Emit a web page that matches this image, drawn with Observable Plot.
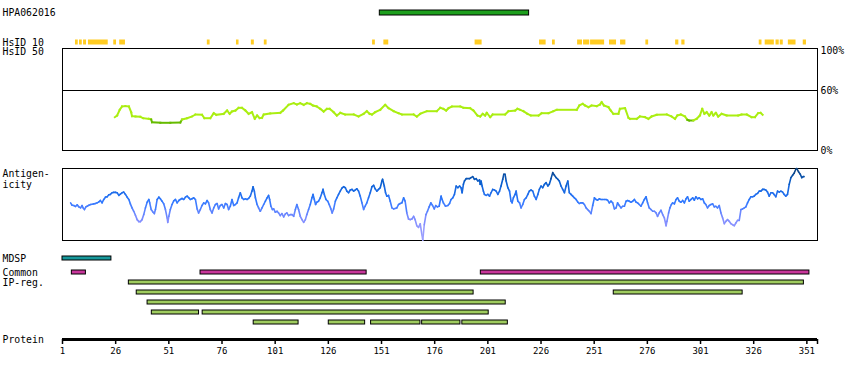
<!DOCTYPE html>
<html><head><meta charset="utf-8">
<script src="https://cdn.jsdelivr.net/npm/d3@7"></script>
<script src="https://cdn.jsdelivr.net/npm/@observablehq/plot@0.6"></script>
<style>
body{margin:0;background:#fff;}
#chart{width:850px;height:380px;}
#chart svg{display:block;overflow:visible;}
</style></head><body><div id="chart"></div>
<script>
// ---------------- data ----------------
const proteinLength = 356;
const antibodyName = "HPA062016";
const antigenRegion = [{start: 150.2, end: 220.4}];

// HsID 10 identity marks (residue start, end)
const hsid10 = [[7.1,8.4],[9.0,10.3],[10.9,12.3],[13.2,22.5],[25.1,26.4],[27.9,30.6],[69.1,70.4],[82.8,84.0],[89.8,91.2],[95.9,97.2],[146.8,148.1],[152.1,154.4],[195.0,198.3],[225.3,228.4],[231.4,232.7],[243.2,245.5],[246.0,248.9],[249.3,255.9],[258.2,261.5],[263.4,265.9],[275.3,276.6],[289.3,290.8],[292.2,293.7],[328.6,329.9],[331.4,335.7],[336.5,338.0],[338.5,339.9],[342.3,345.9],[349.3,350.8]];

// HsID 50 identity profile (residue, percent)
const hsid50 = [[25.6,33.3],[26.7,35.0],[27.9,40.7],[29.0,44.0],[30.6,44.3],[32.2,44.0],[33.3,38.3],[33.7,34.3],[35.3,34.0],[37.6,33.7],[38.9,32.3],[41.6,31.7],[42.7,31.0],[43.1,28.3],[47.0,27.7],[51.7,27.7],[56.4,28.0],[57.2,31.0],[59.6,32.3],[61.9,34.0],[63.5,36.0],[66.6,35.7],[67.7,32.3],[70.5,32.3],[72.1,37.3],[73.3,35.7],[76.8,36.7],[78.4,40.0],[79.6,36.7],[80.7,39.0],[82.3,40.0],[83.8,42.7],[85.4,42.7],[87.0,40.0],[88.5,36.7],[90.1,38.3],[91.4,31.7],[92.5,35.0],[93.7,32.3],[94.8,32.7],[95.6,36.0],[98.7,37.0],[103.4,37.7],[104.7,40.0],[107.3,45.7],[109.7,47.3],[111.2,46.0],[112.8,47.3],[114.4,45.7],[115.9,47.3],[117.5,46.7],[118.8,45.0],[120.6,44.0],[122.2,41.7],[123.8,39.0],[125.3,41.7],[126.6,41.7],[128.5,38.3],[130.0,35.0],[131.6,37.7],[133.9,36.0],[137.9,36.0],[140.2,34.0],[142.6,36.7],[144.1,39.3],[145.4,36.7],[146.5,36.0],[148.0,38.3],[150.4,40.7],[152.7,45.7],[154.3,42.3],[156.7,39.3],[159.0,37.3],[160.6,36.0],[166.1,36.0],[167.6,34.0],[169.2,36.7],[172.3,39.3],[177.0,39.3],[178.6,42.7],[180.1,41.7],[181.4,40.0],[182.5,42.3],[184.1,44.0],[188.0,44.0],[189.5,42.7],[192.7,42.3],[194.2,40.0],[196.1,35.0],[197.4,34.0],[198.6,36.7],[199.7,35.0],[200.5,37.7],[202.1,33.3],[203.3,36.0],[209.1,36.0],[210.7,39.3],[213.8,40.0],[214.9,41.7],[216.2,40.7],[217.7,39.3],[219.6,36.7],[221.2,35.0],[224.8,35.0],[226.3,37.3],[229.5,37.3],[231.8,39.3],[233.4,40.7],[242.8,40.7],[244.0,45.0],[245.6,46.7],[246.7,45.0],[248.3,43.3],[249.8,45.0],[252.2,44.3],[253.7,46.0],[254.5,48.3],[255.6,45.0],[257.7,43.3],[258.8,40.0],[260.0,36.7],[262.4,36.7],[263.1,41.7],[265.5,42.3],[267.1,32.7],[267.8,31.7],[271.0,31.7],[272.5,34.0],[274.9,33.3],[276.5,31.7],[278.0,34.0],[280.4,35.7],[285.1,36.0],[287.4,34.0],[289.0,31.7],[290.1,35.0],[291.7,36.0],[293.7,34.0],[294.8,30.7],[295.7,30.0],[297.6,30.0],[299.2,31.7],[300.7,35.0],[301.8,41.7],[302.8,36.7],[303.9,38.3],[305.1,35.0],[306.2,38.3],[307.0,35.0],[308.2,37.7],[309.3,34.0],[310.9,36.7],[313.3,35.0],[318.7,35.0],[320.3,36.0],[322.7,36.0],[325.0,33.3],[326.6,33.3],[328.1,37.3],[329.2,37.7],[330.2,35.7]];
const percentTicks = [100, 60, 0];

// Antigenicity profile (residue, score 0-100)
const antigenicity = [[4.8,52.3],[5.5,49.0],[6.3,48.6],[7.1,47.2],[7.9,49.5],[8.7,46.7],[9.5,45.3],[10.2,48.6],[10.7,45.3],[11.3,43.0],[12.0,46.7],[12.6,47.6],[13.4,49.0],[14.2,50.0],[15.7,50.9],[16.5,51.4],[17.3,52.3],[18.1,53.7],[18.8,55.6],[19.6,52.3],[20.4,57.0],[21.2,60.2],[22.0,60.7],[22.8,63.5],[23.5,64.0],[24.3,66.3],[25.1,66.8],[25.9,66.8],[26.7,66.3],[27.5,62.6],[28.2,64.4],[29.0,66.3],[29.8,67.2],[30.6,64.0],[31.4,60.2],[32.2,57.0],[32.9,50.9],[33.7,45.3],[34.5,40.6],[35.3,35.0],[36.1,29.0],[36.9,26.2],[37.6,26.2],[38.4,29.0],[39.2,36.0],[40.0,45.3],[40.8,53.2],[41.6,57.0],[42.0,52.3],[42.7,43.0],[43.6,39.2],[44.2,37.4],[44.7,43.0],[45.5,57.0],[46.3,60.2],[47.0,57.9],[47.8,54.6],[48.6,50.9],[49.4,43.0],[50.2,31.3],[50.5,25.2],[51.0,33.6],[51.7,43.0],[52.5,50.0],[53.3,55.1],[54.1,57.0],[54.9,52.3],[55.7,55.6],[56.4,57.0],[57.2,58.4],[58.0,57.0],[58.8,60.2],[59.6,61.6],[60.4,59.3],[61.1,57.0],[61.9,57.9],[62.7,59.3],[63.5,57.0],[64.3,43.9],[65.0,38.3],[65.8,43.0],[66.6,48.6],[67.4,52.3],[68.2,50.9],[69.0,55.6],[69.7,52.3],[70.5,43.0],[71.3,38.3],[72.1,45.3],[72.9,50.0],[73.7,51.4],[74.4,43.9],[75.2,48.6],[76.0,50.0],[76.8,45.3],[77.6,51.4],[78.4,50.0],[79.1,43.0],[79.9,47.6],[80.7,57.0],[81.5,48.6],[82.3,50.0],[83.1,52.3],[83.8,59.3],[84.6,66.3],[85.4,59.3],[86.2,57.0],[87.0,57.9],[87.8,57.0],[88.5,58.4],[89.3,61.6],[90.1,68.6],[90.6,74.7],[91.2,68.6],[91.7,59.3],[92.5,50.0],[93.2,45.3],[94.0,40.6],[94.8,45.3],[95.6,50.0],[96.4,54.6],[97.2,59.3],[97.9,62.6],[98.4,57.0],[99.0,47.6],[99.7,43.0],[100.3,43.9],[101.1,39.2],[101.9,40.6],[102.6,38.3],[103.4,34.6],[104.2,37.4],[105.0,32.7],[105.8,36.9],[106.5,38.3],[107.3,34.6],[108.1,36.0],[108.9,36.0],[109.7,33.6],[110.5,43.0],[111.2,50.0],[112.0,43.0],[112.8,33.6],[113.6,29.0],[114.4,25.2],[115.2,29.0],[115.9,36.0],[116.7,43.0],[117.5,50.0],[118.3,59.3],[118.8,64.0],[119.4,57.0],[120.0,50.0],[120.6,53.2],[121.4,54.6],[122.2,59.3],[123.0,66.3],[123.5,71.0],[124.1,64.0],[124.9,57.0],[125.7,54.6],[126.4,50.0],[127.2,43.9],[127.8,38.3],[128.5,43.9],[129.3,54.6],[130.0,59.3],[130.8,64.0],[131.6,68.6],[132.4,72.9],[133.2,74.7],[134.0,73.3],[134.7,68.6],[135.5,66.3],[136.3,70.1],[137.1,71.0],[137.9,68.6],[138.6,70.1],[139.4,71.9],[140.2,68.6],[141.0,61.6],[141.8,52.3],[142.6,43.0],[143.3,47.6],[144.1,52.3],[144.9,59.3],[145.7,66.3],[146.5,74.7],[147.3,76.6],[148.0,71.9],[148.8,68.6],[149.6,71.0],[150.4,73.3],[151.2,82.7],[151.5,85.0],[152.3,75.7],[152.9,66.3],[153.5,61.6],[154.3,62.6],[155.1,54.6],[155.9,45.3],[156.7,43.9],[158.2,45.3],[159.0,50.0],[159.8,51.4],[160.6,52.3],[161.4,59.3],[162.1,54.6],[162.9,38.3],[163.7,29.9],[164.5,29.0],[165.3,29.9],[166.1,33.6],[166.8,29.0],[167.6,20.5],[168.4,18.2],[169.2,23.3],[170.0,7.9],[170.4,0.5],[171.1,21.9],[171.9,36.0],[172.6,40.6],[173.4,46.7],[174.2,52.3],[175.0,48.6],[175.8,43.9],[176.5,48.6],[177.3,46.7],[178.1,47.6],[179.0,61.6],[179.5,57.0],[180.1,52.3],[181.1,47.6],[182.2,48.6],[183.0,51.4],[183.7,57.0],[184.5,59.3],[185.3,64.0],[186.1,75.7],[186.9,73.3],[187.7,75.7],[188.4,73.3],[188.9,66.3],[189.5,78.0],[190.0,82.7],[190.8,85.9],[192.4,85.9],[193.1,87.3],[193.9,88.7],[194.7,85.0],[195.5,85.9],[196.3,82.7],[197.1,84.1],[197.4,78.0],[197.8,82.7],[198.3,75.7],[198.9,68.6],[199.4,64.0],[200.2,62.6],[201.0,64.0],[201.8,61.6],[202.5,66.3],[203.3,71.0],[204.1,70.1],[204.9,68.6],[205.7,64.0],[206.5,68.6],[207.2,75.7],[208.0,85.0],[208.5,92.0],[209.1,92.0],[209.6,82.7],[210.4,73.3],[211.2,68.6],[211.9,54.6],[212.4,52.3],[213.0,59.3],[213.8,64.0],[214.3,68.6],[215.1,54.6],[215.9,52.3],[216.6,45.3],[217.4,50.0],[218.2,57.0],[219.0,59.3],[219.8,64.0],[220.5,68.6],[221.3,70.1],[222.1,68.6],[222.9,61.6],[223.7,57.0],[224.5,64.0],[225.2,71.0],[226.0,75.7],[226.8,73.3],[227.6,78.0],[228.4,80.3],[229.2,75.7],[229.9,78.0],[230.7,85.9],[231.5,94.3],[232.3,90.6],[233.1,87.3],[233.9,85.0],[234.6,82.7],[235.4,75.7],[236.2,71.0],[237.0,66.3],[237.8,75.7],[238.6,82.7],[239.3,66.3],[240.1,64.0],[240.9,61.6],[241.7,59.3],[242.5,57.0],[243.3,53.2],[244.0,51.4],[244.8,52.3],[245.6,52.3],[246.4,50.0],[247.2,45.3],[247.9,43.0],[248.7,40.6],[249.5,37.4],[250.3,48.6],[251.1,59.3],[251.9,57.0],[252.6,56.0],[253.4,57.9],[254.2,57.0],[255.0,57.0],[255.8,57.0],[256.6,57.0],[257.3,56.0],[258.1,52.3],[258.9,54.6],[259.7,52.3],[260.5,43.9],[261.3,45.3],[262.0,52.3],[262.8,48.6],[263.6,45.3],[264.4,47.6],[265.2,47.6],[266.0,54.6],[266.7,55.6],[267.5,54.6],[268.3,53.2],[269.1,54.6],[269.9,57.0],[270.7,53.2],[271.4,52.3],[272.2,50.0],[273.0,47.6],[273.8,52.3],[274.6,57.0],[275.4,60.7],[276.1,52.3],[276.9,45.3],[277.7,43.0],[278.5,40.6],[279.3,40.6],[280.1,38.3],[280.8,33.6],[281.6,38.3],[282.4,42.0],[283.2,36.0],[284.0,31.3],[284.8,20.5],[285.2,26.6],[286.0,38.3],[286.6,45.3],[287.3,50.0],[287.9,52.3],[288.7,50.9],[289.5,57.0],[290.2,59.3],[291.0,54.6],[291.8,53.2],[292.6,55.6],[293.4,52.3],[294.2,57.9],[294.9,60.7],[295.7,54.6],[296.5,57.0],[297.3,59.3],[298.1,56.0],[298.8,60.7],[299.6,57.9],[300.4,59.3],[301.2,57.0],[302.0,57.9],[302.8,52.3],[303.5,50.0],[304.3,45.3],[305.1,48.6],[305.9,50.0],[306.7,50.9],[307.5,46.7],[308.2,47.6],[309.0,45.3],[309.8,48.6],[310.6,38.3],[311.4,31.3],[312.2,23.4],[312.9,26.6],[313.7,29.0],[314.5,26.6],[315.3,23.4],[316.1,21.9],[316.9,20.5],[317.6,24.3],[318.4,28.0],[319.2,28.0],[320.0,43.0],[320.8,43.9],[321.6,45.3],[322.3,46.7],[323.1,52.3],[323.9,57.0],[324.7,60.7],[325.5,60.7],[326.2,61.6],[327.0,64.0],[327.8,65.4],[328.6,68.6],[329.4,68.6],[330.2,71.0],[330.9,71.0],[331.7,70.1],[332.5,67.2],[333.3,61.6],[334.1,66.3],[334.9,66.3],[335.6,64.0],[336.4,60.7],[337.2,68.6],[338.0,67.2],[338.8,68.6],[339.6,67.2],[340.3,64.0],[341.1,61.6],[341.9,64.0],[342.7,78.0],[343.5,87.3],[344.3,90.6],[345.0,93.4],[345.8,99.0],[346.3,99.9],[347.1,95.3],[347.9,92.0],[348.6,87.3],[349.3,88.7],[349.7,88.7]];

// Feature tracks (residue start, end)
const mdspRegions = [[1, 24]];
const commonRegions = [[5.4, 12.0], [65.9, 144.0], [197.7, 352.2]];
const ipRegRows = [
  [[32.2, 349.6]],
  [[35.9, 194.3], [260.2, 320.8]],
  [[41.0, 209.4]],
  [[43.0, 65.2], [66.9, 201.4]],
  [[90.9, 112.0], [126.2, 143.3], [146.1, 169.3], [170.1, 188.1], [189.0, 210.4]]
];
const trackLabels = ["Common", "IP-reg."];
const axisTicks = [1, 26, 51, 76, 101, 126, 151, 176, 201, 226, 251, 276, 301, 326, 351];

// ---------------- drawing ----------------
const FONT = "'DejaVu Sans Mono', monospace";
const FS = 9.8;
const W = 850, ML = 62, MR = 33;
const root = document.getElementById("chart");

function base(height, mt, mb, extra = {}) {
  return Object.assign({
    width: W, height, marginLeft: ML, marginRight: MR, marginTop: mt, marginBottom: mb,
    x: {domain: [1, proteinLength], axis: null},
    style: {fontFamily: FONT, fontSize: FS + "px", color: "#000", background: "transparent", overflow: "visible"}
  }, extra);
}
function leftLabel(text, opts = {}) {
  return Plot.text([text], Object.assign({text: d => d, frameAnchor: "left", dx: -60, textAnchor: "start", fill: "#000"}, opts));
}

// P1: antibody antigen region
root.append(Plot.plot(base(20, 10, 5, {marks: [
  Plot.rect(antigenRegion, {x1: "start", x2: "end", fill: "#1d9f1d", stroke: "#000", strokeWidth: 1}),
  leftLabel(antibodyName)
]})));

// P2: HsID 10
root.append(Plot.plot(base(27, 20, 2, {marks: [
  Plot.rect(hsid10, {x1: d => d[0], x2: d => d[1], fill: "#ffcc22", insetTop: -0.5, insetBottom: 0.5}),
  leftLabel("HsID 10")
]})));

// P3: HsID 50 profile
const hsSegs = d3.pairs(hsid50).map(([a, b]) => ({x1: a[0], y1: a[1], x2: b[0], y2: b[1], v: (a[1] + b[1]) / 2}));
root.append(Plot.plot(base(115, 1, 12, {
  y: {domain: [0, 102], axis: null},
  color: {type: "threshold", domain: [30.5], range: ["#66bb00", "#aaee11"]},
  marks: [
    Plot.frame({stroke: "#000"}),
    Plot.ruleY([60], {stroke: "#000"}),
    Plot.link(hsSegs, {x1: "x1", y1: "y1", x2: "x2", y2: "y2", stroke: "v", strokeWidth: 2, strokeLinecap: "square"}),
    Plot.text(percentTicks, {y: d => d, text: d => d + "%", frameAnchor: "right", dx: 3, textAnchor: "start", fill: "#000"}),
    leftLabel("HsID 50", {frameAnchor: "top-left"})
  ]})));

// P4: antigenicity
const agSegs = d3.pairs(antigenicity).map(([a, b]) => ({x1: a[0], y1: a[1], x2: b[0], y2: b[1], v: (a[1] + b[1]) / 2}));
root.append(Plot.plot(base(88, 6, 10, {
  y: {domain: [0, 100], axis: null},
  color: {type: "linear", domain: [0, 30, 55, 80, 100], range: ["#a8a8ff", "#7f8cff", "#2f78ff", "#0a5fd0", "#0b3f78"]},
  marks: [
    Plot.frame({stroke: "#000"}),
    Plot.link(agSegs, {x1: "x1", y1: "y1", x2: "x2", y2: "y2", stroke: "v", strokeWidth: 1.6, strokeLinecap: "round"}),
    Plot.text(["Antigen-\nicity"], {text: d => d, frameAnchor: "top-left", dx: -60, dy: 1, textAnchor: "start", lineHeight: 1.08, fill: "#000"})
  ]})));

// P5: MDSP
root.append(Plot.plot(base(15, 6, 5, {marks: [
  Plot.rect(mdspRegions, {x1: d => d[0], x2: d => d[1], fill: "#17989b", stroke: "#000", strokeWidth: 1}),
  leftLabel("MDSP")
]})));

// P6: Common + IP-reg rows
const rowBars = [
  ...commonRegions.map(([s, e]) => ({row: 0, s, e, kind: "Common"})),
  ...ipRegRows.flatMap((segs, i) => segs.map(([s, e]) => ({row: i + 1, s, e, kind: "IP"})))
];
root.append(Plot.plot(base(68, 5, 9, {
  y: {type: "band", domain: d3.range(ipRegRows.length + 1), paddingInner: 0.6, paddingOuter: 0, align: 0, axis: null},
  color: {domain: ["Common", "IP"], range: ["#c8369b", "#9fcc5f"]},
  marks: [
    Plot.barX(rowBars, {x1: "s", x2: "e", y: "row", fill: "kind", stroke: "#000", strokeWidth: 1}),
    Plot.text(trackLabels, {y: (d, i) => i, text: d => d, frameAnchor: "left", dx: -60, textAnchor: "start", fill: "#000"})
  ]})));

// P7: protein axis
root.append(Plot.plot(base(47, 0, 41, {
  x: {domain: [1, proteinLength], label: null},
  y: {domain: [0, 1], axis: null},
  marks: [
    Plot.ruleY([0], {stroke: "#000", strokeWidth: 3}),
    Plot.axisX([...axisTicks, proteinLength], {anchor: "bottom", tickSize: 5, tickPadding: 3, strokeWidth: 1.5,
      tickFormat: d => d === proteinLength ? "" : String(d), label: null,
      fontFamily: "'Liberation Sans Narrow', 'DejaVu Sans Mono', monospace", fontSize: 9, fill: "#000", stroke: "#000"}),
    Plot.text(["Protein"], {y: 0, text: d => d, frameAnchor: "left", dx: -60, textAnchor: "start", fill: "#000"})
  ]})));
</script></body></html>
